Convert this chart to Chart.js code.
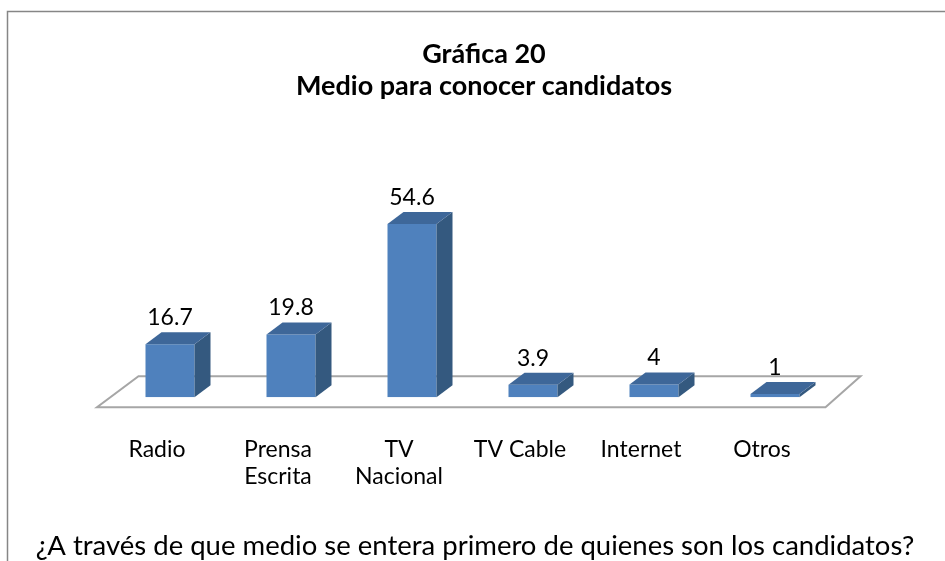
<!DOCTYPE html>
<html>
<head>
<meta charset="utf-8">
<script src="https://cdn.jsdelivr.net/npm/chart.js@4"></script>
<style>
    body { margin: 0; background: #ffffff; }
    .chart-box { width: 945px; height: 561px; }
</style>
</head>
<body>
<div class="chart-box"><canvas id="myChart"></canvas></div>
<script>
const categories = ['Radio', ['Prensa', 'Escrita'], ['TV', 'Nacional'], 'TV Cable', 'Internet', 'Otros'];
const values = [16.7, 19.8, 54.6, 3.9, 4, 1];
const valueLabels = ['16.7', '19.8', '54.6', '3.9', '4', '1'];
const titleLines = ['Gráfica 20', 'Medio para conocer candidatos'];
const caption = '¿A través de que medio se entera primero de quienes son los candidatos?';

const FONT = 'Lato, "Noto Sans", sans-serif';

// marco gris, piso del grafico 3D, titulo y pregunta de abajo
const floorPlugin = {
    id: 'floor',
    beforeDraw(chart) {
        const ctx = chart.ctx;
        ctx.save();
        ctx.fillStyle = '#ffffff';
        ctx.fillRect(0, 0, chart.width, chart.height);
        ctx.strokeStyle = '#868686';
        ctx.lineWidth = 1.5;
        ctx.beginPath();
        ctx.moveTo(7.5, chart.height);
        ctx.lineTo(7.5, 11.5);
        ctx.lineTo(chart.width, 11.5);
        ctx.stroke();
        ctx.restore();
    },
    beforeDatasetsDraw(chart) {
        const ctx = chart.ctx;
        const area = chart.chartArea;
        const base = chart.scales.y.getPixelForValue(0);
        const front = base + 10, back = base - 21;
        ctx.save();
        ctx.strokeStyle = '#a6a6a6';
        ctx.lineWidth = 2;
        ctx.beginPath();
        ctx.moveTo(area.left - 12.5, front);
        ctx.lineTo(area.right - 10, front);
        ctx.lineTo(area.right + 25, back);
        ctx.lineTo(area.left + 29, back);
        ctx.closePath();
        ctx.stroke();
        ctx.restore();
    },
    afterDraw(chart) {
        const ctx = chart.ctx;
        ctx.save();
        ctx.fillStyle = '#000000';
        ctx.textAlign = 'center';
        ctx.textBaseline = 'middle';
        ctx.font = 'bold 27px ' + FONT;
        titleLines.forEach((t, i) => {
            ctx.fillText(t, 484, 54 + i * 32);
        });
        ctx.font = '27.5px ' + FONT;
        ctx.textBaseline = 'alphabetic';
        ctx.fillText(caption, 475, 555);
        ctx.restore();
    }
};

// caras laterales y superiores de las barras + etiquetas
const boxPlugin = {
    id: 'box',
    afterDatasetsDraw(chart) {
        const ctx = chart.ctx;
        const dx = 16, dy = -12;
        const meta = chart.getDatasetMeta(0);
        ctx.save();
        meta.data.forEach((bar, i) => {
            const p = bar.getProps(['x', 'y', 'base', 'width'], true);
            const l = p.x - p.width / 2, r = p.x + p.width / 2;
            // lado
            ctx.fillStyle = '#34597f';
            ctx.beginPath();
            ctx.moveTo(r, p.base);
            ctx.lineTo(r + dx, p.base + dy);
            ctx.lineTo(r + dx, p.y + dy);
            ctx.lineTo(r, p.y);
            ctx.closePath();
            ctx.fill();
            // arriba
            ctx.fillStyle = '#3e6799';
            ctx.beginPath();
            ctx.moveTo(l, p.y);
            ctx.lineTo(l + dx, p.y + dy);
            ctx.lineTo(r + dx, p.y + dy);
            ctx.lineTo(r, p.y);
            ctx.closePath();
            ctx.fill();
            // etiqueta
            ctx.fillStyle = '#000000';
            ctx.font = '23px ' + FONT;
            ctx.textAlign = 'center';
            ctx.textBaseline = 'bottom';
            ctx.fillText(valueLabels[i], p.x, p.y + dy - 3);
        });
        ctx.restore();
    }
};

const ctx = document.getElementById('myChart');

new Chart(ctx, {
    type: 'bar',
    data: {
        labels: categories,
        datasets: [{
            data: values,
            backgroundColor: '#4f81bd',
            borderWidth: 0,
            categoryPercentage: 1,
            barPercentage: 0.405
        }]
    },
    options: {
        responsive: true,
        maintainAspectRatio: false,
        animation: false,
        layout: {
            padding: { left: 109.5, right: 109.5, top: 207, bottom: 70.4 }
        },
        plugins: {
            legend: { display: false },
            tooltip: { enabled: false },
            title: { display: false }
        },
        scales: {
            x: {
                grid: { display: false, drawTicks: false },
                border: { display: false },
                ticks: {
                    color: '#000000',
                    font: { family: FONT, size: 23, lineHeight: '27.6px' },
                    padding: 38.2,
                    labelOffset: -13,
                    maxRotation: 0,
                    autoSkip: false
                },
                afterFit(scale) {
                    scale.height = 93.4;
                }
            },
            y: {
                display: false,
                min: 0,
                max: 60
            }
        }
    },
    plugins: [floorPlugin, boxPlugin]
});
</script>
</body>
</html>
